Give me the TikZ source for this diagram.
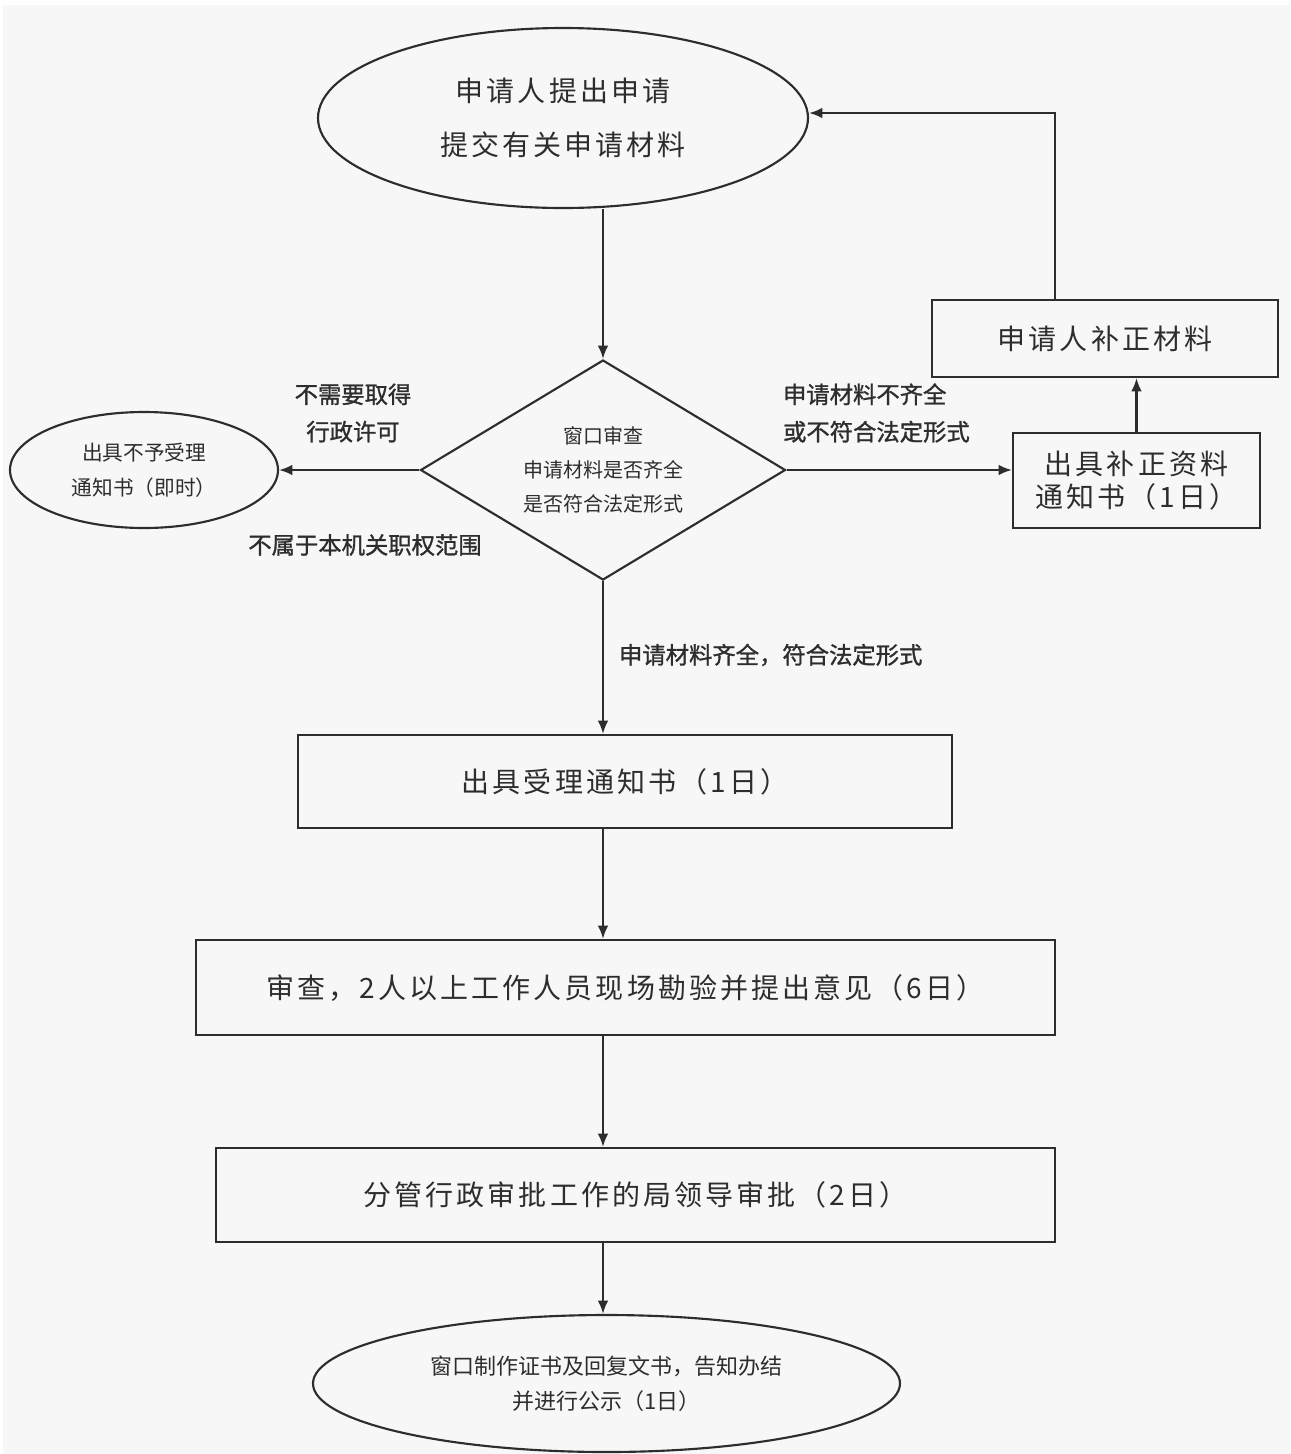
\documentclass[tikz,border=0pt]{standalone}
\usepackage{fontspec}
\usepackage{tikz}
\usetikzlibrary{shapes.geometric,arrows.meta}
\newfontfamily\cjk{Noto Sans CJK SC}
\newfontfamily\cjkbold[FakeBold=1.2]{Noto Sans CJK SC}
\newfontfamily\cjkwide[LetterSpace=11]{Noto Sans CJK SC}
\definecolor{bgcol}{RGB}{247,247,247}
\definecolor{inkcol}{RGB}{45,45,45}

\begin{document}
\begin{tikzpicture}[x=0.75pt,y=0.75pt,yscale=-1,xscale=1,
  line width=1.6pt, draw=inkcol, text=inkcol,
  flow/.style={-{Latex[length=10pt,width=8pt]}, draw=inkcol},
  boxnode/.style={draw, rectangle, inner sep=0pt, align=center, font=\cjkwide\fontsize{21}{25}\selectfont},
  ovalnode/.style={draw, ellipse, inner sep=0pt, align=center},
  labelnode/.style={inner sep=0.75pt, align=left, font=\cjkbold\fontsize{17.5}{28}\selectfont}]
%set diagram frame, height of 1454
\useasboundingbox (0,0) rectangle (1290,1454);
\fill[bgcol] (3,5) rectangle (1290,1454);

% Ellipse: application
\node[ovalnode, minimum width=367.5pt, minimum height=135pt, font=\cjkwide\fontsize{21}{40}\selectfont] (apply) at (563,118) {申请人提出申请\\提交有关申请材料};
% Diamond: window check
\node[draw, diamond, aspect=1.66, inner sep=0pt, minimum width=273.75pt, minimum height=165pt, align=center, font=\cjk\fontsize{15}{25.5}\selectfont] (check) at (603,470) {窗口审查\\申请材料是否齐全\\是否符合法定形式};
% Ellipse: reject
\node[ovalnode, minimum width=201pt, minimum height=87pt, font=\cjk\fontsize{15.5}{26}\selectfont] (reject) at (144,470) {出具不予受理\\通知书（即时）};
% Rectangle: correction notice
\node[boxnode, minimum width=185.25pt, minimum height=71.25pt] (notice) at (1136.5,480.5) {出具补正资料\\通知书（1日）};
% Rectangle: applicant corrects
\node[boxnode, minimum width=259.5pt, minimum height=57.75pt] (fix) at (1105,338.5) {申请人补正材料};
% Rectangle: acceptance
\node[boxnode, minimum width=490.5pt, minimum height=69.75pt] (accept) at (625,781.5) {出具受理通知书（1日）};
% Rectangle: survey
\node[boxnode, minimum width=644.25pt, minimum height=71.25pt] (survey) at (625.5,987.5) {审查，2人以上工作人员现场勘验并提出意见（6日）};
% Rectangle: approval
\node[boxnode, minimum width=629.25pt, minimum height=70.5pt] (approve) at (635.5,1195) {分管行政审批工作的局领导审批（2日）};
% Ellipse: finish
\node[ovalnode, minimum width=440.25pt, minimum height=102.75pt, font=\cjk\fontsize{16.5}{26}\selectfont] (finish) at (606.5,1383.5) {窗口制作证书及回复文书，告知办结\\并进行公示（1日）};

% Text Node
\node[labelnode, align=center] (lblno) at (353,413) {不需要取得\\行政许可};
% Text Node
\node[labelnode] (lblout) at (365,545) {不属于本机关职权范围};
% Text Node
\node[labelnode, anchor=west] (lblmiss) at (781,413) {申请材料不齐全\\或不符合法定形式};
% Text Node
\node[labelnode, anchor=west] (lblok) at (617,655) {申请材料齐全，符合法定形式};

% Connection
\draw[flow] (apply.south -| check.north) -- (check.north);
% Connection
\draw[flow] (check.west) -- (reject.east);
% Connection
\draw[flow] (check.east) -- (notice.west |- check.east);
% Connection
\draw[flow] (notice.north) -- (notice.north |- fix.south);
% Connection
\draw[flow] ([xshift=-37.5pt]fix.north) |- ([yshift=-3.75pt]apply.east);
% Connection
\draw[flow] (check.south) -- (check.south |- accept.north);
% Connection
\draw[flow] (check.south |- accept.south) -- (check.south |- survey.north);
% Connection
\draw[flow] (check.south |- survey.south) -- (check.south |- approve.north);
% Connection
\draw[flow] (check.south |- approve.south) -- (check.south |- finish.north);

\end{tikzpicture}
\end{document}
